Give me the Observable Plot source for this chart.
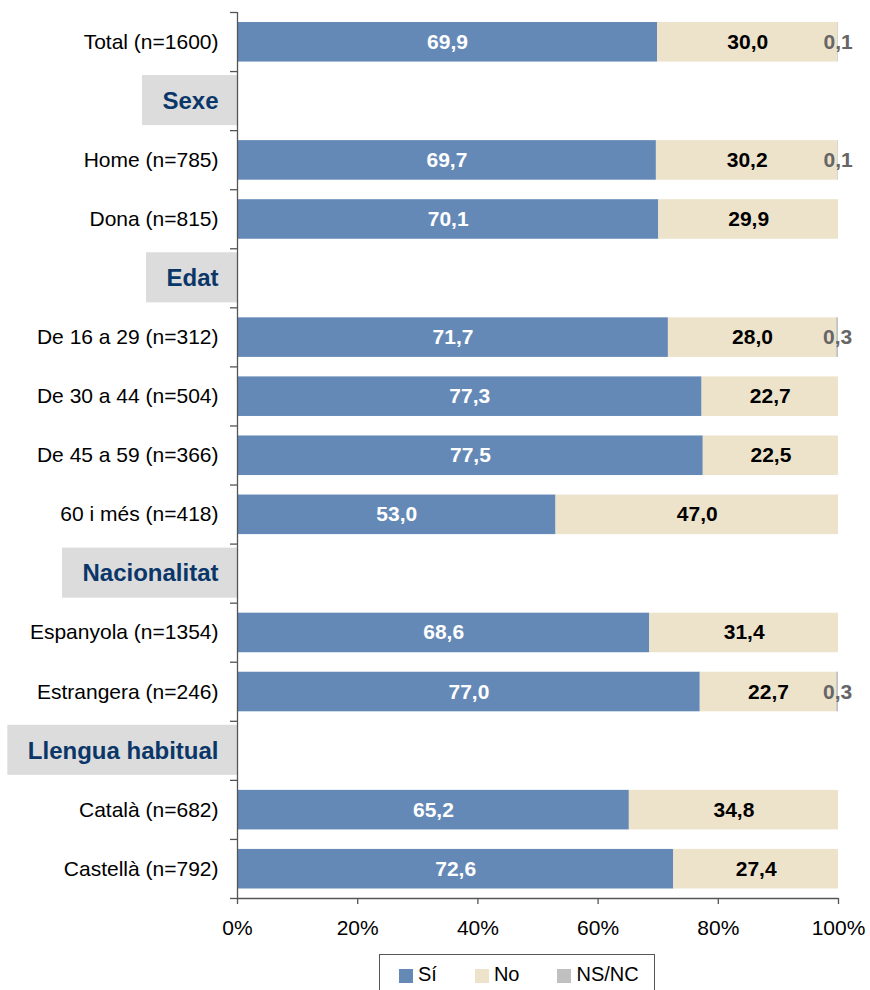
<!DOCTYPE html>
<html><head><meta charset="utf-8">
<script src="https://cdn.jsdelivr.net/npm/d3@7"></script>
<script src="https://cdn.jsdelivr.net/npm/@observablehq/plot@0.6"></script>
<style>
body{margin:0;background:#fff;font-family:"Liberation Sans",Arial,sans-serif;}
#legend{margin-left:379px;margin-top:4px;width:276px;height:40px;border:1px solid #555;border-bottom:none;display:flex;align-items:center;padding-left:19px;box-sizing:border-box;font-size:20px;color:#000;}
#legend .it{display:flex;align-items:center;margin-right:38px;}
#legend .sw{width:14px;height:14px;margin-right:5px;margin-top:3px;}
</style>
</head><body>
<script>
const rows = ["Total (n=1600)", "Sexe", "Home (n=785)", "Dona (n=815)", "Edat",
  "De 16 a 29 (n=312)", "De 30 a 44 (n=504)", "De 45 a 59 (n=366)", "60 i més (n=418)",
  "Nacionalitat", "Espanyola (n=1354)", "Estrangera (n=246)", "Llengua habitual",
  "Català (n=682)", "Castellà (n=792)"];
const headers = ["Sexe", "Edat", "Nacionalitat", "Llengua habitual"];
const si   = [69.9, null, 69.7, 70.1, null, 71.7, 77.3, 77.5, 53.0, null, 68.6, 77.0, null, 65.2, 72.6];
const no   = [30.0, null, 30.2, 29.9, null, 28.0, 22.7, 22.5, 47.0, null, 31.4, 22.7, null, 34.8, 27.4];
const nsnc = [0.1, null, 0.1, 0, null, 0.3, 0, 0, 0, null, 0, 0.3, null, 0, 0];
const series = ["Sí", "No", "NS/NC"];
const xTicks = [0, 20, 40, 60, 80, 100];

const fillColors = {"Sí": "#6589b7", "No": "#ede3cb", "NS/NC": "#c0c0c0"};
const textColors = {"Sí": "#ffffff", "No": "#000000", "NS/NC": "#666666"};
const axisColor = "#555555";
const headerFont = '"Liberation Sans", Arial, sans-serif';

const vals = {"Sí": si, "No": no, "NS/NC": nsnc};
const tidy = rows.flatMap((r, i) => headers.includes(r) ? [] :
  series.filter(k => vals[k][i] > 0).map(k => ({row: r, i, resp: k, value: vals[k][i]})));
const rowData = rows.map((r, i) => ({row: r, i, header: headers.includes(r)}));
const fmt = v => d3.format(".1f")(v).replace(".", ",");

const chart = Plot.plot({
  width: 870, height: 950,
  marginLeft: 237, marginRight: 32, marginTop: 12, marginBottom: 52,
  style: {fontFamily: headerFont, fontSize: "21px", background: "#fff"},
  x: {domain: [0, 100], axis: null, label: null},
  y: {domain: [0, 15], reverse: true, axis: null, label: null},
  color: {type: "identity"},
  marks: [
    Plot.rectX(tidy, {x: "value", y1: "i", y2: d => d.i + 1, z: "resp", fill: d => fillColors[d.resp], insetTop: 10, insetBottom: 9.5, order: series}),
    Plot.text(tidy, Plot.stackX({x: "value", y: d => d.i + 0.5, z: "resp", order: series, text: d => fmt(d.value), fill: d => textColors[d.resp], fontWeight: "bold", fontSize: 21})),
    Plot.ruleX([0], {y1: 0, y2: 15, stroke: axisColor, strokeWidth: 1.3}),
    Plot.ruleY([15], {stroke: axisColor, strokeWidth: 1.3}),
    Plot.axisY(d3.range(0, 16), {tickSize: 7, tickFormat: () => "", label: null, stroke: axisColor, strokeWidth: 1.3}),
    Plot.axisX(xTicks, {tickSize: 6, tickPadding: 16, tickFormat: d => d + "%", label: null, stroke: axisColor, strokeWidth: 1.3, fill: "#000", fontSize: 21}),
    Plot.text(rowData.filter(d => !d.header), {y: d => d.i + 0.5, text: "row", frameAnchor: "left", dx: -19, textAnchor: "end", fill: "#000", fontSize: 21}),
    Plot.text(rowData.filter(d => d.header), {y: d => d.i + 0.5, text: "row", frameAnchor: "left", dx: -19, textAnchor: "end", fill: "#0b3668", fontWeight: "bold", fontSize: 24})
  ]
});
document.body.append(chart);

// gray boxes behind header labels (positions from the chart's own scales)
try {
  const sx = chart.scale("x"), sy = chart.scale("y");
  const ctx = document.createElement("canvas").getContext("2d");
  ctx.font = 'bold 24px ' + headerFont;
  const NS = "http://www.w3.org/2000/svg";
  const g = document.createElementNS(NS, "g");
  const x1 = sx.apply(0);
  headers.forEach(h => {
    const i = rows.indexOf(h);
    const w = ctx.measureText(h).width;
    const x0 = x1 - 19 - w - 20;
    const ya = sy.apply(i), yb = sy.apply(i + 1);
    const top = Math.min(ya, yb) + 4, bot = Math.max(ya, yb) - 5;
    const rect = document.createElementNS(NS, "rect");
    rect.setAttribute("x", x0); rect.setAttribute("width", x1 - x0);
    rect.setAttribute("y", top); rect.setAttribute("height", bot - top);
    rect.setAttribute("fill", "#dcdcdc");
    g.appendChild(rect);
  });
  const firstG = chart.querySelector("g");
  chart.insertBefore(g, firstG);
} catch (e) {
  const p = document.createElement("pre"); p.textContent = String(e); document.body.append(p);
}

const legend = document.createElement("div");
legend.id = "legend";
series.forEach(k => {
  const it = document.createElement("div"); it.className = "it";
  const sw = document.createElement("div"); sw.className = "sw"; sw.style.background = fillColors[k];
  const tx = document.createElement("span"); tx.textContent = k;
  it.append(sw, tx); legend.append(it);
});
document.body.append(legend);
</script>
</body></html>
